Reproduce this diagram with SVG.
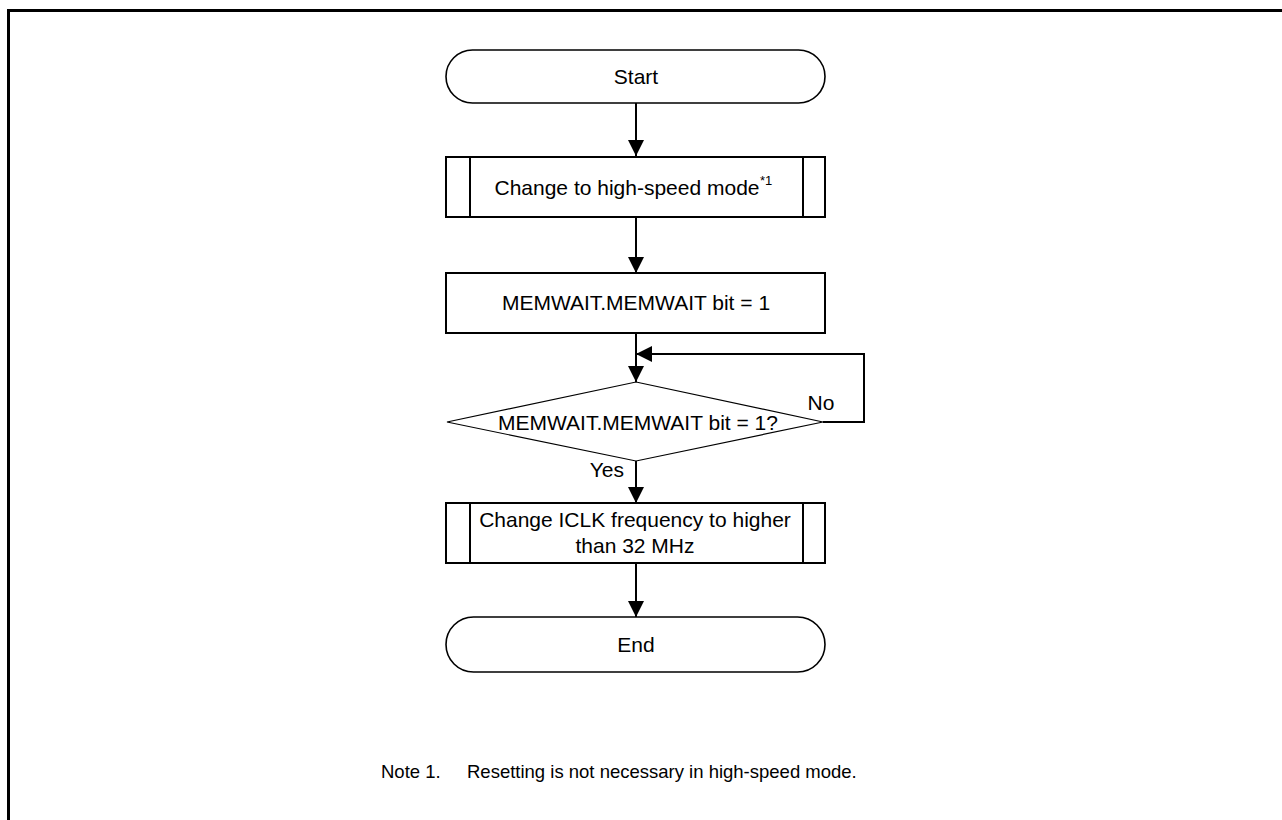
<svg xmlns="http://www.w3.org/2000/svg" width="1282" height="820" viewBox="0 0 1282 820">
<style>
text{font-family:"Liberation Sans",Arial,sans-serif;fill:#000}
.t{font-size:21px;text-anchor:middle}
.box{fill:#fff;stroke:#000;stroke-width:2}
.thin{fill:#fff;stroke:#000;stroke-width:1.2}
.ln{fill:none;stroke:#000;stroke-width:2}
.note{font-size:18.5px}
</style>
<defs>
<marker id="ah" viewBox="0 0 16 16" refX="16" refY="8" markerWidth="16" markerHeight="16" markerUnits="userSpaceOnUse" orient="auto">
<path d="M0,0 L16,8 L0,16 Z" fill="#000"/>
</marker>
</defs>
<rect width="1282" height="820" fill="#fff"/>
<path d="M8.5,820 V10.5 H1282" fill="none" stroke="#000" stroke-width="3"/>
<g id="connectors">
<line class="ln" x1="636" y1="103" x2="636" y2="156" marker-end="url(#ah)"/>
<line class="ln" x1="636" y1="217" x2="636" y2="273" marker-end="url(#ah)"/>
<line class="ln" x1="636" y1="333" x2="636" y2="382" marker-end="url(#ah)"/>
<polyline class="ln" points="823,422 864,422 864,354 636,354" marker-end="url(#ah)"/>
<line class="ln" x1="636" y1="461" x2="636" y2="503" marker-end="url(#ah)"/>
<line class="ln" x1="636" y1="563" x2="636" y2="617" marker-end="url(#ah)"/>
<text x="821" y="410" class="t">No</text>
<text x="624" y="477" style="font-size:21px;text-anchor:end">Yes</text>
</g>
<g id="start">
<rect class="box" x="446" y="50" width="379" height="53" rx="26.5" ry="26.5" style="stroke-width:1.6"/>
<text x="636" y="84" class="t">Start</text>
</g>
<g id="highspeed">
<rect class="box" x="446" y="157" width="379" height="60"/>
<line class="ln" x1="470" y1="157" x2="470" y2="217"/>
<line class="ln" x1="803" y1="157" x2="803" y2="217"/>
<text x="627" y="195" class="t">Change to high-speed mode</text>
<text x="760" y="185" style="font-size:13px">*1</text>
</g>
<g id="memwait">
<rect class="box" x="446" y="273" width="379" height="60"/>
<text x="636" y="310" class="t">MEMWAIT.MEMWAIT bit = 1</text>
</g>
<g id="decision">
<polygon class="thin" points="636,382 823,422 636,461 447,422"/>
<text x="638" y="430" class="t">MEMWAIT.MEMWAIT bit = 1?</text>
</g>
<g id="iclk">
<rect class="box" x="446" y="503" width="379" height="60"/>
<line class="ln" x1="470" y1="503" x2="470" y2="563"/>
<line class="ln" x1="803" y1="503" x2="803" y2="563"/>
<text x="635" y="527" class="t">Change ICLK frequency to higher</text>
<text x="635" y="553" class="t">than 32 MHz</text>
</g>
<g id="end">
<rect class="box" x="446" y="617" width="379" height="55" rx="27.5" ry="27.5" style="stroke-width:1.6"/>
<text x="636" y="652" class="t">End</text>
</g>
<g id="note">
<text x="381" y="778" class="note">Note 1.</text>
<text x="467" y="778" class="note">Resetting is not necessary in high-speed mode.</text>
</g>
</svg>
